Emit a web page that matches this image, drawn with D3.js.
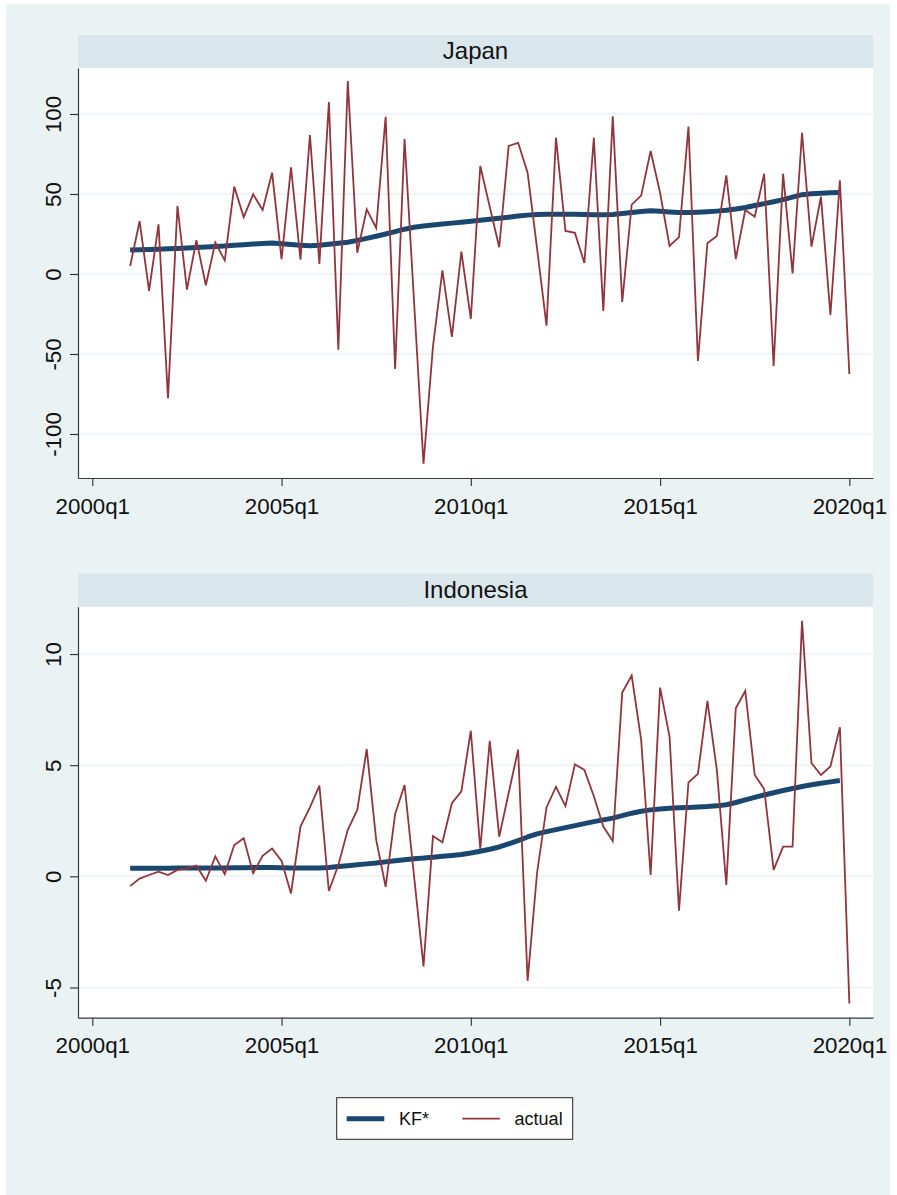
<!DOCTYPE html>
<html>
<head>
<meta charset="utf-8">
<script src="https://cdn.jsdelivr.net/npm/d3@7"></script>
<style>
  html, body { margin: 0; padding: 0; background: #ffffff; }
  svg { display: block; font-family: "Liberation Sans", Arial, sans-serif; }
</style>
</head>
<body>
<svg id="chart" width="897" height="1195"></svg>
<script>
// Quarterly series, first observation 2001q1 (quarter index 4 counted from 2000q1)
const firstQuarter = 4;
const xTickValues = [0, 20, 40, 60, 80];
const xTickLabels = ["2000q1", "2005q1", "2010q1", "2015q1", "2020q1"];

const japanTicks = [-100, -50, 0, 50, 100];
const indonesiaTicks = [-5, 0, 5, 10];

const japanActual = [
  5, 33, -10.6, 31, -77.7, 42.5, -9.8, 21.2, -7, 19.6,
  8.5, 54.6, 35.6, 49.8, 40, 63.3, 9.2, 66.7, 9, 86.9,
  6.3, 107.5, -47.3, 120.6, 13.3, 40.4, 28.8, 98.3, -59.4, 84.4,
  -17, -118.6, -45.4, 2.2, -39.3, 14, -28.1, 67.5, 42, 16.7,
  80, 82, 63.3, 16, -32.3, 85.2, 26.9, 25.7, 6.9, 85.2,
  -23.1, 98.5, -17.5, 43.3, 49, 76.9, 50.8, 17.5, 23.1, 92.1,
  -54.4, 19.2, 23.75, 61.7, 9.4, 40, 35.8, 62.7, -57.5, 62.7,
  0.4, 88.3, 17.1, 48.3, -25.6, 58.5, -62.5
];

const japanKF = [
  15, 15.1, 15.3, 15.5, 15.8, 16, 16.3, 16.6, 16.9, 17.2,
  17.5, 17.9, 18.3, 18.7, 19.1, 19.4, 18.9, 18.4, 17.9, 17.7,
  18, 18.6, 19.2, 19.8, 21, 22.3, 23.6, 25, 26.5, 28,
  29.2, 30, 30.6, 31.2, 31.8, 32.4, 33, 33.6, 34.2, 34.8,
  35.5, 36.2, 36.8, 37.2, 37.4, 37.4, 37.4, 37.3, 37.2, 37.1,
  37.1, 37.2, 37.8, 38.4, 39, 39.5, 39.2, 38.8, 38.5, 38.4,
  38.6, 38.9, 39.3, 39.8, 40.6, 41.6, 42.8, 44, 45.2, 46.5,
  48, 49.6, 50.2, 50.5, 50.8, 51
];

const indonesiaActual = [
  -0.44, -0.1, 0.06, 0.21, 0.06, 0.29, 0.36, 0.48, -0.2, 0.9,
  0.1, 1.41, 1.71, 0.14, 0.92, 1.25, 0.69, -0.77, 2.24, 3.1,
  4.08, -0.66, 0.51, 2.09, 2.99, 5.72, 1.64, -0.47, 2.8, 4.11,
  0.02, -4.05, 1.81, 1.53, 3.29, 3.82, 6.55, 1.23, 6.1, 1.78,
  3.75, 5.7, -4.7, 0.15, 3.1, 4.03, 3.16, 5.04, 4.79, 3.6,
  2.24, 1.59, 8.27, 9.03, 6.14, 0.06, 8.49, 6.29, -1.55, 4.22,
  4.61, 7.89, 4.79, -0.39, 7.56, 8.34, 4.56, 3.93, 0.29, 1.34,
  1.34, 11.49, 5.09, 4.56, 4.94, 6.71, -5.72
];

const indonesiaKF = [
  0.36, 0.36, 0.36, 0.36, 0.36, 0.37, 0.37, 0.37, 0.38, 0.38,
  0.38, 0.39, 0.39, 0.40, 0.40, 0.40, 0.39, 0.38, 0.37, 0.37,
  0.38, 0.40, 0.44, 0.48, 0.52, 0.56, 0.6, 0.65, 0.7, 0.75,
  0.79, 0.82, 0.86, 0.9, 0.94, 0.98, 1.05, 1.13, 1.22, 1.32,
  1.46, 1.61, 1.77, 1.91, 2.01, 2.1, 2.19, 2.28, 2.37, 2.46,
  2.54, 2.62, 2.73, 2.84, 2.93, 2.99, 3.03, 3.06, 3.08, 3.1,
  3.12, 3.14, 3.17, 3.22, 3.32, 3.44, 3.55, 3.66, 3.76, 3.86,
  3.95, 4.04, 4.12, 4.19, 4.25, 4.31
];

const legendLabels = ["KF*", "actual"];

// Colours in the style of Stata's s2color scheme
const colBackground = "#eaf2f3";
const colStrip = "#d9e6eb";
const colGrid = "#eaf2f3";
const colKF = "#1a476f";
const colActual = "#90353b";
const colAxis = "#3a3a3a";

const svg = d3.select("#chart");

svg.append("rect")
  .attr("x", 6).attr("y", 4).attr("width", 884).attr("height", 1191)
  .attr("fill", colBackground);

const plotLeft = 78, plotRight = 873;
const x = d3.scaleLinear().domain([-1.51, 82.5]).range([plotLeft, plotRight]);

function panel(cfg) {
  const g = svg.append("g");
  const y = d3.scaleLinear().domain(cfg.domain).range([cfg.bottom, cfg.top]);

  // title strip
  g.append("rect")
    .attr("x", plotLeft).attr("y", cfg.stripTop)
    .attr("width", plotRight - plotLeft).attr("height", cfg.top - cfg.stripTop)
    .attr("fill", colStrip);
  g.append("text")
    .attr("x", (plotLeft + plotRight) / 2).attr("y", cfg.stripTop + 24.3)
    .attr("text-anchor", "middle")
    .attr("font-size", 24).attr("fill", "#111")
    .text(cfg.title);

  // plot region
  g.append("rect")
    .attr("x", plotLeft).attr("y", cfg.top)
    .attr("width", plotRight - plotLeft).attr("height", cfg.bottom - cfg.top)
    .attr("fill", "#ffffff");

  // horizontal grid
  g.append("g").selectAll("line").data(cfg.ticks).join("line")
    .attr("x1", plotLeft).attr("x2", plotRight)
    .attr("y1", d => y(d)).attr("y2", d => y(d))
    .attr("stroke", colGrid).attr("stroke-width", 1.5);

  // series
  const lineGen = d3.line()
    .x((d, i) => x(firstQuarter + i))
    .y(d => y(d));

  g.append("path").datum(cfg.kf)
    .attr("d", lineGen)
    .attr("fill", "none").attr("stroke", colKF)
    .attr("stroke-width", 5).attr("stroke-linejoin", "round");

  g.append("path").datum(cfg.actual)
    .attr("d", lineGen)
    .attr("fill", "none").attr("stroke", colActual)
    .attr("stroke-width", 1.8).attr("stroke-linejoin", "miter");

  // y axis
  const yAxis = d3.axisLeft(y).tickValues(cfg.ticks)
    .tickSize(8).tickSizeOuter(0).tickFormat(d => String(d));
  const ya = g.append("g").attr("transform", `translate(${plotLeft},0)`).call(yAxis);
  ya.select(".domain").attr("stroke", colAxis).attr("stroke-width", 1.2);
  ya.selectAll(".tick line").attr("stroke", colAxis).attr("stroke-width", 1.2);
  ya.selectAll(".tick text")
    .attr("x", null).attr("dy", null)
    .attr("transform", "translate(-17,0) rotate(-90)")
    .attr("text-anchor", "middle")
    .attr("font-size", 22.3).attr("fill", "#111")
    .attr("font-family", "Liberation Sans, Arial, sans-serif");

  // x axis
  const xAxis = d3.axisBottom(x).tickValues(xTickValues)
    .tickSize(8).tickSizeOuter(0)
    .tickFormat((d, i) => xTickLabels[i]);
  const xa = g.append("g").attr("transform", `translate(0,${cfg.bottom})`).call(xAxis);
  xa.select(".domain").attr("stroke", colAxis).attr("stroke-width", 1.2);
  xa.selectAll(".tick line").attr("stroke", colAxis).attr("stroke-width", 1.2);
  xa.selectAll(".tick text")
    .attr("y", 35.5).attr("dy", null)
    .attr("font-size", 22.3).attr("fill", "#111")
    .attr("font-family", "Liberation Sans, Arial, sans-serif");
}

panel({
  title: "Japan", stripTop: 35, top: 68, bottom: 478,
  domain: [-127.5, 128.75], ticks: japanTicks,
  actual: japanActual, kf: japanKF
});

panel({
  title: "Indonesia", stripTop: 573.3, top: 606.7, bottom: 1017.7,
  domain: [-6.36, 12.13], ticks: indonesiaTicks,
  actual: indonesiaActual, kf: indonesiaKF
});

// legend
const lg = svg.append("g");
lg.append("rect")
  .attr("x", 336.7).attr("y", 1097.7).attr("width", 236).attr("height", 41.6)
  .attr("fill", "#ffffff").attr("stroke", "#222").attr("stroke-width", 1);
const legendItems = [
  { label: legendLabels[0], color: colKF, width: 5, x0: 346.7 },
  { label: legendLabels[1], color: colActual, width: 1.8, x0: 462.3 }
];
legendItems.forEach(it => {
  lg.append("line")
    .attr("x1", it.x0).attr("x2", it.x0 + 37.6)
    .attr("y1", 1118.7).attr("y2", 1118.7)
    .attr("stroke", it.color).attr("stroke-width", it.width);
  lg.append("text")
    .attr("x", it.x0 + 52.3).attr("y", 1125)
    .attr("font-size", 18).attr("fill", "#111")
    .text(it.label);
});
</script>
</body>
</html>
